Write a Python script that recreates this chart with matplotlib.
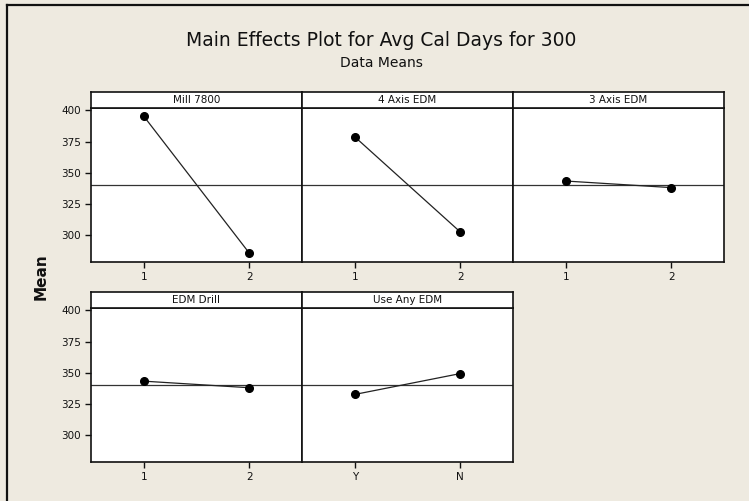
import matplotlib
matplotlib.use('Agg')
import matplotlib.pyplot as plt
from matplotlib.lines import Line2D

# main effects data
factors = ['Mill 7800', '4 Axis EDM', '3 Axis EDM', 'EDM Drill', 'Use Any EDM']
levels = [['1', '2'], ['1', '2'], ['1', '2'], ['1', '2'], ['Y', 'N']]
means = [[395.4, 285.2], [378.8, 302.2], [343.2, 337.9], [343.1, 337.8], [332.4, 349.2]]
grand_mean = 340.0
y_ticks = [300, 325, 350, 375, 400]

W, H = 749, 501
bg = '#eeeae0'
fig = plt.figure(figsize=(W / 100, H / 100), dpi=100, facecolor=bg)


def box(x0, y0, w, h):
    # pixel box (top-left origin) -> figure fraction
    return [x0 / W, 1 - (y0 + h) / H, w / W, h / H]


# window edge lines (top and left)
fig.add_artist(Line2D([7 / W, 7 / W], [0, 1 - 5 / H], color='#111111', lw=1.6))
fig.add_artist(Line2D([7 / W, 1], [1 - 5 / H, 1 - 5 / H], color='#111111', lw=1.6))

fig.text(381 / W, 1 - 41 / H, 'Main Effects Plot for Avg Cal Days for 300',
         ha='center', va='center', fontsize=13.5, color='#111111')
fig.text(381 / W, 1 - 63 / H, 'Data Means', ha='center', va='center',
         fontsize=10, color='#111111')
fig.text(41 / W, 1 - 277 / H, 'Mean', rotation=90, ha='center', va='center',
         fontsize=11, fontweight='bold', color='#111111')

col_x = [91, 302, 513]
row_y = [108, 308]
pw, ph, sh = 211, 154, 16.5

for i, name in enumerate(factors):
    r, c = divmod(i, 3)
    x0, y0 = col_x[c], row_y[r]

    ax = fig.add_axes(box(x0, y0, pw, ph))
    ax.set_facecolor('white')
    ax.axhline(grand_mean, color='#333333', lw=0.9, zorder=1)
    ax.plot([1, 2], means[i], color='#222222', lw=0.9, marker='o',
            markersize=5.5, markerfacecolor='black', markeredgecolor='black', zorder=3)
    ax.set_xlim(0.5, 2.5)
    ax.set_ylim(278, 402)
    ax.set_xticks([1, 2])
    ax.set_xticklabels(levels[i])
    ax.set_yticks(y_ticks)
    ax.tick_params(direction='out', length=4, width=1, colors='#111111',
                   labelsize=7.5, pad=3)
    if c == 0:
        ax.tick_params(axis='y', left=True, labelleft=True)
    else:
        ax.tick_params(axis='y', left=False, labelleft=False)
    for s in ax.spines.values():
        s.set_linewidth(1.2)
        s.set_color('#111111')

    # strip with factor name
    st = fig.add_axes(box(x0, y0 - sh, pw, sh))
    st.set_facecolor('white')
    st.set_xticks([])
    st.set_yticks([])
    for s in st.spines.values():
        s.set_linewidth(1.2)
        s.set_color('#111111')
    st.text(0.5, 0.5, name, ha='center', va='center', fontsize=7.5,
            color='#111111', transform=st.transAxes)

fig.savefig('out.png', dpi=100, facecolor=bg)
